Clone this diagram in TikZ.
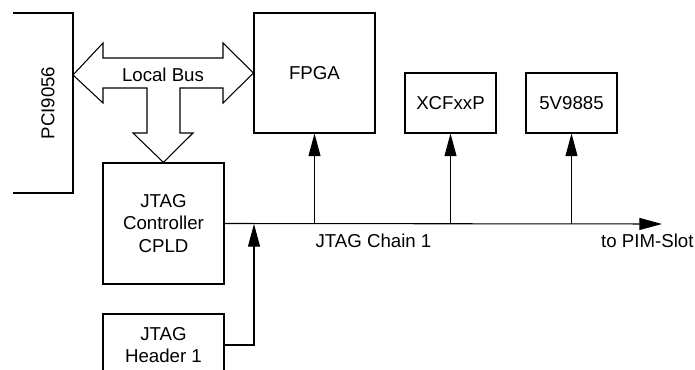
\documentclass[tikz,border=0pt]{standalone}
\usepackage{fontspec}
\setmainfont{Liberation Sans}
\usetikzlibrary{arrows.meta}
\tikzset{block/.style={draw,line width=0.8pt,align=center,inner sep=0pt,
    font=\fontsize{14}{17}\selectfont},
  link/.style={line width=0.8pt,-{Triangle[length=17pt,width=9pt]}}}

\begin{document}
\begin{tikzpicture}[x=0.75pt,y=-0.75pt,line width=0.8pt,
    every node/.append style={font=\fontsize{14}{17}\selectfont}]
    \useasboundingbox (0,0) rectangle (695,370);
    \clip (0,0) rectangle (695,370);
    % PCI bridge, only its edge is shown
    \draw (13,13) -- (73,13) -- (73,193) -- (13,193);
    \node[rotate=90] (pci) at (48,103) {PCI9056};
    \coordinate (pcie) at (73,75);
    % blocks
    \node[block,minimum width=90.75pt,minimum height=90pt] (fpga) at (314.5,73) {FPGA};
    \node[block,minimum width=90.75pt,minimum height=90.75pt] (ctrl) at (163.5,223.5) {JTAG\\Controller\\CPLD};
    \node[block,minimum width=90.75pt,minimum height=46.5pt] (hdr) at (163.5,345) {JTAG\\Header 1};
    \node[block,minimum width=68.25pt,minimum height=45pt] (xcf) at (450.5,103) {XCFxxP};
    \node[block,minimum width=68.25pt,minimum height=45pt] (pll) at (571.5,103) {5V9885};
    % local bus
    \draw (pcie) -- (103,43) -- (103,58) -- (223,58) -- (223,43) -- (fpga.west)
        -- (223,103) -- (223,88) -- (180,88) -- (180,133) -- (193,133)
        -- (ctrl.north) -- (133,133) -- (147,133) -- (147,88) -- (103,88)
        -- (103,103) -- cycle;
    \node at (163,75) {Local Bus};
    % jtag chain
    \coordinate (pim) at (662,224);
    \coordinate (jn) at (254,224);
    \draw[link] (ctrl.east) -- (pim);
    \draw[link] (hdr.east) -| (jn);
    \draw[link] (fpga.south |- pim) -- (fpga.south);
    \draw[link] (xcf.south |- pim) -- (xcf.south);
    \draw[link] (pll.south |- pim) -- (pll.south);
    \node[anchor=west,inner sep=0pt] (chain) at (315,241) {JTAG Chain 1};
    \node[anchor=east,inner sep=0pt] (pimlbl) at (694,241) {to PIM-Slot};
\end{tikzpicture}
\end{document}
